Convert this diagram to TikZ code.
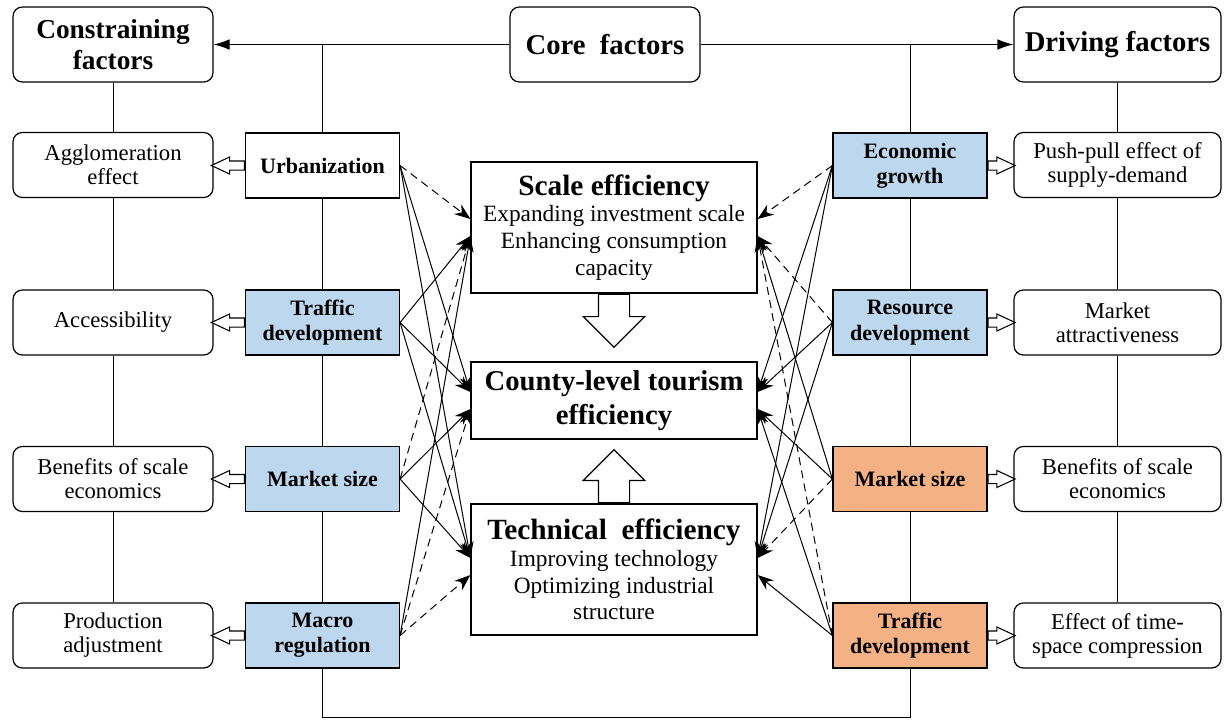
\documentclass[tikz,border=0pt]{standalone}
\usepackage{fontspec}
\setmainfont{Liberation Serif}
\usetikzlibrary{arrows.meta, shapes.arrows, calc}

\definecolor{factorblue}{RGB}{189,215,238}
\definecolor{factororange}{RGB}{244,177,131}

\tikzset{
  headbox/.style={draw, rounded corners=7pt, line width=0.9pt, align=center, minimum height=56.25pt, inner sep=2pt, font=\fontsize{21.5}{24}\selectfont\bfseries},
  effectbox/.style={draw, fill=white, rounded corners=7pt, line width=0.9pt, align=center, minimum width=150pt, minimum height=48.75pt, inner sep=1pt, font=\fontsize{17}{18}\selectfont},
  factorbox/.style={draw, line width=0.9pt, align=center, minimum width=115.5pt, minimum height=48.75pt, inner sep=1pt, font=\fontsize{16.5}{19}\selectfont\bfseries},
  centerbox/.style={draw, line width=0.9pt, align=center, minimum width=214.5pt, inner sep=1pt, font=\fontsize{17.5}{20}\selectfont},
  solidlink/.style={line width=0.75pt, -{Stealth[length=12pt,width=9pt]}},
  dashlink/.style={solidlink, dash pattern=on 6pt off 4pt},
  mainarrow/.style={line width=0.9pt, -{Latex[length=12pt,width=8pt]}},
  openarrow/.style={draw, fill=white, single arrow, line width=0.8pt, inner xsep=0pt, inner ysep=3pt, single arrow head extend=3pt, single arrow tip angle=50},
  bigarrow/.style={draw, fill=white, single arrow, line width=0.9pt, inner sep=11.25pt, minimum height=39.75pt, single arrow head extend=11.25pt, single arrow tip angle=90}
}

\begin{document}
\begin{tikzpicture}[x=0.75pt,y=0.75pt,yscale=-1,xscale=1]
\useasboundingbox (0,0) rectangle (1228,719);

% top row
\node[headbox, minimum width=150pt, font=\fontsize{20.5}{23}\selectfont\bfseries] (cons) at (113,44.5) {Constraining\\factors};
\node[headbox, minimum width=142.5pt] (core) at (605,44.5) {Core~ factors};
\node[headbox, minimum width=155.25pt] (driv) at (1117.5,44.5) {Driving factors};

% effects, left column
\node[effectbox] (aggl) at (113,165) {Agglomeration\\effect};
\node[effectbox] (access) at (113,322.5) {Accessibility};
\node[effectbox] (benl) at (113,479) {Benefits of scale\\economics};
\node[effectbox] (prod) at (113,635.5) {Production\\adjustment};

% constraining factors
\node[factorbox, fill=white] (urb) at (322.5,165.5) {Urbanization};
\node[factorbox, fill=factorblue] (trafl) at (322.5,322.5) {Traffic\\development};
\node[factorbox, fill=factorblue] (mktl) at (322.5,479) {Market size};
\node[factorbox, fill=factorblue] (macro) at (322.5,635.5) {Macro\\regulation};

% driving factors
\node[factorbox, fill=factorblue] (econ) at (910,165.5) {Economic\\growth};
\node[factorbox, fill=factorblue] (resr) at (910,322.5) {Resource\\development};
\node[factorbox, fill=factororange] (mktr) at (910,479) {Market size};
\node[factorbox, fill=factororange] (trafr) at (910,635.5) {Traffic\\development};

% effects, right column
\node[effectbox, minimum width=155.25pt] (pushp) at (1117.5,165) {Push-pull effect of\\supply-demand};
\node[effectbox, minimum width=155.25pt] (attr) at (1117.5,322.5) {Market\\attractiveness};
\node[effectbox, minimum width=155.25pt] (benr) at (1117.5,479) {Benefits of scale\\economics};
\node[effectbox, minimum width=155.25pt] (tsc) at (1117.5,635.5) {Effect of time-\\space compression};

% efficiency boxes
\node[centerbox, minimum height=98.25pt] (scl) at (614,227.5) {{\fontsize{22}{20}\selectfont\bfseries Scale efficiency}\\Expanding investment scale\\Enhancing consumption\\capacity};
\node[centerbox, minimum height=57.75pt, font=\fontsize{21.5}{26}\selectfont\bfseries] (cty) at (614,400.5) {County-level tourism\\efficiency};
\node[centerbox, minimum height=98.25pt] (tec) at (614,569.5) {{\fontsize{22}{20}\selectfont\bfseries Technical~ efficiency}\\Improving technology\\Optimizing industrial\\structure};

\node[bigarrow, shape border rotate=270, anchor=tail] (sdown) at (scl.south) {};
\node[bigarrow, shape border rotate=90, anchor=tail] (tup) at (tec.north) {};

% arrival points
\coordinate (sL1) at ($(scl.west)+(0,-8.5)$);
\coordinate (sL2) at ($(scl.west)+(0,8.5)$);
\coordinate (cL1) at ($(cty.west)+(0,-8.5)$);
\coordinate (cL2) at ($(cty.west)+(0,8.5)$);
\coordinate (tL1) at ($(tec.west)+(0,-11.5)$);
\coordinate (tL2) at ($(tec.west)+(0,5.5)$);
\coordinate (sR1) at ($(scl.east)+(0,-8.5)$);
\coordinate (sR2) at ($(scl.east)+(0,8.5)$);
\coordinate (cR1) at ($(cty.east)+(0,-8.5)$);
\coordinate (cR2) at ($(cty.east)+(0,8.5)$);
\coordinate (tR1) at ($(tec.east)+(0,-11.5)$);
\coordinate (tR2) at ($(tec.east)+(0,5.5)$);

% core factors to both sides
\draw[mainarrow] (core.west) -- (cons.east);
\draw[mainarrow] (core.east) -- (driv.west);
\draw[line width=0.75pt] (urb.north) -- (urb.north |- core.west);
\draw[line width=0.75pt] (econ.north) -- (econ.north |- core.east);

% column spines
\draw[line width=0.75pt] (cons.south) -- (aggl.north) (aggl.south) -- (access.north) (access.south) -- (benl.north) (benl.south) -- (prod.north);
\draw[line width=0.75pt] (driv.south) -- (pushp.north) (pushp.south) -- (attr.north) (attr.south) -- (benr.north) (benr.south) -- (tsc.north);
\draw[line width=0.75pt] (urb.south) -- (trafl.north) (trafl.south) -- (mktl.north) (mktl.south) -- (macro.north);
\draw[line width=0.75pt] (econ.south) -- (resr.north) (resr.south) -- (mktr.north) (mktr.south) -- (trafr.north);
\draw[line width=0.75pt] (macro.south) -- ++(0,49) -| (trafr.south);

% factor -> effect
\node[openarrow, shape border rotate=180, minimum height=24.75pt, anchor=tail] (a1) at (urb.west) {};
\node[openarrow, shape border rotate=180, minimum height=24.75pt, anchor=tail] (a2) at (trafl.west) {};
\node[openarrow, shape border rotate=180, minimum height=24.75pt, anchor=tail] (a3) at (mktl.west) {};
\node[openarrow, shape border rotate=180, minimum height=24.75pt, anchor=tail] (a4) at (macro.west) {};
\node[openarrow, minimum height=20.25pt, anchor=tail] (b1) at (econ.east) {};
\node[openarrow, minimum height=20.25pt, anchor=tail] (b2) at (resr.east) {};
\node[openarrow, minimum height=20.25pt, anchor=tail] (b3) at (mktr.east) {};
\node[openarrow, minimum height=20.25pt, anchor=tail] (b4) at (trafr.east) {};

% constraining factors -> efficiency
\draw[dashlink] (urb.east) -- (sL1);
\draw[solidlink] (urb.east) -- (cL1);
\draw[solidlink] (urb.east) -- (tL1);
\draw[solidlink] (trafl.east) -- (sL2);
\draw[solidlink] (trafl.east) -- (cL1);
\draw[solidlink] (trafl.east) -- (tL1);
\draw[dashlink] (mktl.east) -- (sL2);
\draw[solidlink] (mktl.east) -- (cL2);
\draw[solidlink] (mktl.east) -- (tL1);
\draw[solidlink] (macro.east) -- (sL2);
\draw[dashlink] (macro.east) -- (cL2);
\draw[dashlink] (macro.east) -- (tL2);

% driving factors -> efficiency
\draw[dashlink] (econ.west) -- (sR1);
\draw[solidlink] (econ.west) -- (cR1);
\draw[solidlink] (econ.west) -- (tR1);
\draw[dashlink] (resr.west) -- (sR2);
\draw[solidlink] (resr.west) -- (cR1);
\draw[solidlink] (resr.west) -- (tR1);
\draw[solidlink] (mktr.west) -- (sR2);
\draw[solidlink] (mktr.west) -- (cR2);
\draw[dashlink] (mktr.west) -- (tR1);
\draw[dashlink] (trafr.west) -- (sR2);
\draw[solidlink] (trafr.west) -- (cR2);
\draw[solidlink] (trafr.west) -- (tR2);

\end{tikzpicture}
\end{document}
